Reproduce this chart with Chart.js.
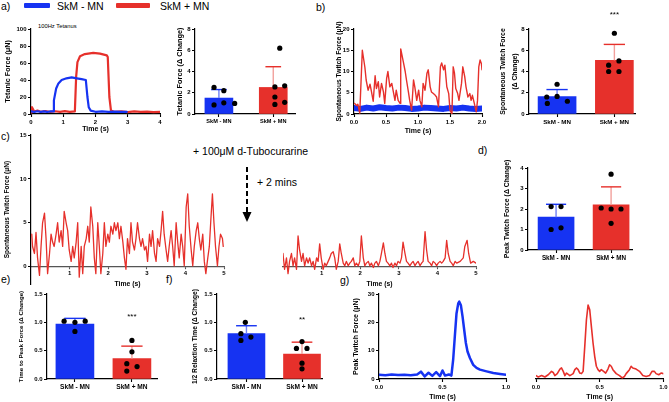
<!DOCTYPE html>
<html>
<head>
<meta charset="utf-8">
<script src="https://cdn.jsdelivr.net/npm/chart.js@4.4.1/dist/chart.umd.min.js"></script>
<style>
  html, body { margin: 0; padding: 0; background: #fff; }
  #fig { position: relative; width: 669px; height: 402px; overflow: hidden; font-family: "Liberation Sans", Arial, sans-serif; color: #000; }
  #fig canvas { position: absolute; left: 0; top: 0; }
  .t { position: absolute; white-space: nowrap; line-height: 1; transform: translateY(-50%); }
  .sw { position: absolute; height: 5px; border-radius: 1px; }
</style>
</head>
<body>
<div id="fig">
  <div class="t" style="left:1px;top:6px;font-size:10.5px">a)</div>
  <div class="sw" style="left:24px;top:3px;width:26px;background:#1633f2"></div>
  <div class="t" style="left:57px;top:6px;font-size:10.5px">SkM - MN</div>
  <div class="sw" style="left:116px;top:3px;width:34px;background:#e6302b"></div>
  <div class="t" style="left:160px;top:6px;font-size:10.5px">SkM + MN</div>
  <div class="t" style="left:38px;top:27px;font-size:5.8px">100Hz Tetanus</div>
  <div class="t" style="left:316px;top:7px;font-size:10.5px">b)</div>
  <div class="t" style="left:1px;top:136px;font-size:10.5px">c)</div>
  <div class="t" style="left:193px;top:151px;font-size:10.5px">+ 100μM d-Tubocurarine</div>
  <div class="t" style="left:257px;top:182px;font-size:10.5px">+ 2 mins</div>
  <svg style="position:absolute;left:0;top:0" width="669" height="402">
    <line x1="247" y1="167" x2="247" y2="213" stroke="#000" stroke-width="2" stroke-dasharray="5,3"/>
    <polygon points="242.5,212 251.5,212 247,222" fill="#000"/>
  </svg>
  <div class="t" style="left:478px;top:150px;font-size:10.5px">d)</div>
  <div class="t" style="left:1px;top:279px;font-size:10.5px">e)</div>
  <div class="t" style="left:166px;top:279px;font-size:10.5px">f)</div>
  <div class="t" style="left:340px;top:280px;font-size:10.5px">g)</div>
</div>
<script>
// ---- data ----
const groups = ['SkM - MN', 'SkM + MN'];

// a) 100Hz tetanus traces
const aBlueT = [0, 0.1, 0.2, 0.3, 0.4, 0.5, 0.6, 0.69, 0.71, 0.78, 0.85, 0.95, 1.1, 1.26, 1.42, 1.57, 1.7, 1.75, 1.79, 1.85, 2.0, 2.2, 2.4, 2.6, 2.8, 2.97];
const aBlueV = [3, 2.5, 3.2, 2.6, 3, 2.4, 3.1, 3, 16, 30, 36, 40, 42, 43, 42, 41, 40, 20, 8, 4, 2.6, 3, 2.4, 2.8, 2.5, 2.6];
const aRedT = [0, 0.03, 0.1, 0.2, 0.3, 0.45, 0.6, 0.75, 0.9, 1.05, 1.2, 1.36, 1.4, 1.44, 1.52, 1.67, 1.93, 2.14, 2.35, 2.38, 2.43, 2.48, 2.6, 2.8, 3.0, 3.2, 3.4, 3.6, 3.8, 4.0];
const aRedV = [2, 8, 3, 4, 2.5, 3.5, 2.4, 3.2, 2.5, 3.4, 2.6, 3, 44, 61, 68, 70.5, 72, 71, 69, 67, 20, 4, 2.4, 3, 2.2, 3, 2.4, 2.8, 2.3, 2.6];

// a) tetanic force bars
const tetMean = [1.5, 2.5];
const tetErr = [2.3, 4.45];
const tetBlue = [2.5, 2.2, 0.85, 1.05, 1.0];
const tetRed = [6.2, 2.55, 2.65, 1.6, 0.9, 1.1];

// b) spontaneous twitch traces
const bBlueT = [0, 0.1, 0.2, 0.3, 0.4, 0.5, 0.6, 0.7, 0.8, 0.9, 1.0, 1.1, 1.2, 1.3, 1.4, 1.5, 1.6, 1.7, 1.8, 1.9, 2.0];
const bBlueV = [1.4, 1.2, 1.5, 1.3, 1.6, 1.4, 1.3, 1.5, 1.4, 1.2, 1.3, 1.5, 1.4, 1.3, 1.2, 1.4, 1.3, 1.5, 1.3, 1.2, 1.3];
const bRedT = [0.01, 0.04, 0.06, 0.09, 0.13, 0.17, 0.19, 0.22, 0.25, 0.27, 0.30, 0.33, 0.35, 0.38, 0.40, 0.43, 0.46, 0.48, 0.51, 0.53,
  0.56, 0.59, 0.61, 0.64, 0.66, 0.69, 0.72, 0.73, 0.77, 0.80, 0.82, 0.85, 0.87, 0.90, 0.93, 0.95, 0.98, 1.01, 1.03, 1.06,
  1.08, 1.11, 1.14, 1.16, 1.19, 1.21, 1.24, 1.27, 1.29, 1.32, 1.35, 1.37, 1.40, 1.42, 1.45, 1.48, 1.50, 1.53, 1.55, 1.57,
  1.59, 1.62, 1.64, 1.68, 1.70, 1.73, 1.75, 1.78, 1.81, 1.83, 1.85, 1.88, 1.91, 1.93, 1.95, 1.97, 1.99, 2.00];
const bRedV = [2.5, 2.0, 2.3, 0.2, 15, 11, 8, 5.6, 7, 5.5, 3, 9, 6, 7.6, 4, 7.2, 5.2, 2.5, 8.4, 10,
  6.4, 7.2, 5.6, 3.2, 5.6, 3.2, 2.5, 15.3, 12.3, 10, 8, 5.2, 3.2, 0.9, 8, 6.4, 3.2, 5.6, 3.2, 1.7,
  7.2, 5.6, 9.6, 10.4, 6.4, 5.2, 4.8, 4.4, 4, 1.7, 11.1, 12, 10.4, 11.5, 6.4, 4.8, 0.9, 0, 11.1, 9.6,
  6, 4.8, 3.2, 7.2, 11.1, 8.8, 6.4, 4, 4.8, 3.2, 4.4, 2.5, 0.5, 3.2, 11.1, 12.7, 11.9, 10.4];

// b) spontaneous twitch bars
const sponMean = [1.65, 5.05];
const sponErr = [2.3, 6.55];
const sponBlue = [2.8, 1.6, 1.65, 1.0, 1.2];
const sponRed = [7.6, 4.6, 5.0, 4.0, 4.0];

// c) before and after d-tubocurarine
const c1T = [0.02, 0.04, 0.09, 0.13, 0.17, 0.22, 0.26, 0.30, 0.35, 0.39, 0.43, 0.48, 0.52, 0.56, 0.60, 0.65, 0.69, 0.73, 0.78, 0.82,
  0.86, 0.91, 0.95, 0.99, 1.04, 1.08, 1.12, 1.17, 1.21, 1.25, 1.30, 1.34, 1.38, 1.43, 1.47, 1.51, 1.55, 1.60, 1.64, 1.68,
  1.73, 1.77, 1.81, 1.86, 1.90, 1.94, 1.99, 2.03, 2.07, 2.12, 2.16, 2.20, 2.25, 2.29, 2.33, 2.38, 2.42, 2.46, 2.50, 2.55,
  2.59, 2.63, 2.68, 2.72, 2.76, 2.81, 2.85, 2.89, 2.94, 2.98, 3.02, 3.07, 3.11, 3.15, 3.20, 3.24, 3.28, 3.33, 3.37, 3.41,
  3.45, 3.50, 3.54, 3.58, 3.63, 3.67, 3.71, 3.76, 3.80, 3.84, 3.89, 3.93, 3.97, 4.02, 4.06, 4.10, 4.15, 4.19, 4.23, 4.28,
  4.32, 4.36, 4.40, 4.45, 4.49, 4.53, 4.58, 4.62, 4.66, 4.70, 4.74, 4.78, 4.83, 4.87, 4.91, 4.96, 4.98];
const c1V = [3.7, 2.3, 1.5, 3.9, 1, -1, 2.3, 5, 6.1, 3.2, -0.8, 1.5, 3.7, 2.8, 2.3, 3.7, 5, 2.8, 4.1, 2.3,
  6.3, 5, 4.1, 1.9, 0.6, 2.3, 1, 2.8, 5, -1.2, 2.3, -0.8, 2.3, 3.2, 4.6, 2.8, 6.8, 4.6, 1, -0.8,
  5, 2.3, -0.8, 1.5, 5, 2.3, 3.7, 2.8, 4.6, 3.7, 5, 4.1, 5, 3.2, 4.6, 2.8, 1, -0.3, 3.2, 1.5,
  5, 2.8, 1.9, 3.2, 5, 3.2, 2.3, 3.2, 1.9, 2.3, 0.6, 3.7, 2.3, 4.1, 1.5, 0.6, 3.2, 2.3, 4.1, 6.3,
  3.7, 1.9, 0.6, 2.3, 4.1, 2.3, 0.1, 5, 2.8, 1, 3.7, 2.3, 0.1, 6.8, 8.3, 4.6, 1.9, 0.1, 2.3, 4.1,
  5, 3.2, 1.9, 3.7, 0.6, -0.8, 1, 2.3, 5.4, 8.3, 5, 2.3, 0.1, 2.3, 3.7, 3.2, 2.3];
const c2T = [0, 0.04, 0.09, 0.13, 0.17, 0.22, 0.26, 0.30, 0.35, 0.39, 0.43, 0.48, 0.52, 0.56, 0.61, 0.65, 0.69, 0.74, 0.78, 0.82,
  0.87, 0.91, 0.95, 0.99, 1.04, 1.08, 1.12, 1.17, 1.21, 1.25, 1.30, 1.34, 1.38, 1.43, 1.47, 1.51, 1.56, 1.60, 1.64, 1.69,
  1.73, 1.77, 1.82, 1.86, 1.90, 1.95, 1.99, 2.03, 2.08, 2.12, 2.16, 2.21, 2.25, 2.29, 2.34, 2.38, 2.42, 2.47, 2.51, 2.55,
  2.60, 2.64, 2.68, 2.72, 2.77, 2.81, 2.85, 2.90, 2.94, 2.98, 3.03, 3.07, 3.11, 3.16, 3.20, 3.24, 3.29, 3.33, 3.37, 3.42,
  3.46, 3.50, 3.55, 3.59, 3.63, 3.68, 3.72, 3.76, 3.81, 3.85, 3.89, 3.94, 3.98, 4.02, 4.07, 4.11, 4.15, 4.20, 4.24, 4.28,
  4.33, 4.37, 4.41, 4.46, 4.50, 4.59, 4.67, 4.71, 4.77, 4.81, 4.86, 4.93, 5.0];
const c2V = [1.5, -0.3, 1, -0.8, 0.6, 1.5, 0.1, 1, -0.3, 3.5, 1.9, 0.6, 1.5, 0.1, 1, 0.4, 1, 0.1, 0.6, -0.3,
  1, 0.6, 2.6, 1, -0.3, 0.4, 0.1, 0.6, 1, 1.5, 1.7, 1, -0.3, 0.6, 2.6, 1.5, 0.4, 0.1, 0.6, 0.1,
  0.4, 0.6, 1, 0.1, 0.4, 0.1, 0.6, 3.5, 1, 0.1, 0.4, 0.6, 0.1, 0.4, -0.1, 0.4, 0.6, 0.1, 0.6, 1.5,
  2.7, 1.5, 0.6, 0.4, 0.1, 0.4, -0.1, 0.4, 0.1, 0.6, 0.4, 1, 2.8, 1.5, 0.6, 0.4, 0.1, 0.4, 0.6, 0.1,
  0.4, 0.6, 0.1, 0.4, 0.6, 4, 1.9, 0.6, 0.4, 0.1, 0.6, 0.4, 0.1, 0.4, 0.6, 0.4, 0.6, 1, 3, 1.5,
  0.6, 0.4, 0.1, 0.6, 0.4, 0.6, 1, 2.3, 3, 1.5, 0.4, 0.6, 0.4];

// d) peak twitch force bars
const peakMean = [1.6, 2.2];
const peakErr = [2.23, 3.08];
const peakBlue = [2.12, 2.12, 1.0, 1.08];
const peakRed = [3.7, 2.05, 2.0, 2.0, 1.3];

// e) time to peak force bars
const ttpMean = [0.97, 0.36];
const ttpErr = [1.07, 0.58];
const ttpBlue = [1.02, 1.0, 1.02, 0.84];
const ttpRed = [0.68, 0.48, 0.27, 0.22, 0.14];

// f) half relaxation time bars
const relMean = [0.8, 0.44];
const relErr = [0.94, 0.65];
const relBlue = [1.0, 0.8, 0.68, 0.74];
const relRed = [0.66, 0.54, 0.54, 0.28, 0.18];

// g) single twitch traces
const gBlueT = [0, 0.05, 0.1, 0.15, 0.2, 0.25, 0.3, 0.33, 0.36, 0.39, 0.42, 0.45, 0.48, 0.5, 0.52, 0.55, 0.57, 0.584, 0.597, 0.61,
  0.624, 0.632, 0.645, 0.658, 0.671, 0.684, 0.697, 0.716, 0.742, 0.768, 0.795, 0.847, 0.9, 0.953, 1.0];
const gBlueV = [1.5, 1.3, 1.6, 1.4, 1.5, 1.3, 1.6, 2.6, 0.9, 2.2, 1.1, 2.4, 1.0, 3.0, 1.2, 1.6, 1.2, 6.8, 15, 23,
  26.7, 27.3, 26, 22, 17.3, 12.7, 9.7, 7.4, 5, 3.9, 3.3, 2.7, 2.1, 1.8, 1.5];
const gRedT = [0, 0.018, 0.044, 0.07, 0.096, 0.122, 0.135, 0.148, 0.167, 0.188, 0.2, 0.214, 0.227, 0.24, 0.266, 0.292, 0.305, 0.318, 0.331, 0.344,
  0.357, 0.37, 0.383, 0.396, 0.409, 0.422, 0.435, 0.448, 0.461, 0.474, 0.487, 0.5, 0.513, 0.531, 0.547, 0.565, 0.578, 0.591, 0.604, 0.63,
  0.656, 0.677, 0.695, 0.708, 0.734, 0.747, 0.76, 0.786, 0.813, 0.839, 0.865, 0.891, 0.911, 0.93, 0.943, 0.964, 0.982, 1.0];
const gRedV = [1.2, 0.7, 1.2, 0.7, 1.5, 2.7, 2.3, 1.2, 1.9, 3.5, 3.9, 2.7, 1.2, 2.1, 1.2, 1.9, 3.3, 3.9, 3.3, 2.1,
  1.9, 2.7, 11.5, 20.9, 26.1, 24.4, 18.5, 12.7, 8, 4.5, 3.3, 2.7, 3.3, 2.7, 2.1, 3.5, 5, 4.5, 3.3, 1.9,
  1.2, 0.4, 0.9, 1.9, 3.3, 4.5, 3.9, 3.5, 2.7, 1.2, 0.9, 1.2, 2.7, 2.7, 1.9, 1.5, 2.1, 1.9];

// horizontal scatter of the dots inside each bar (layout, not data)
const jit = {
  tet: [[-0.09, 0.09, -0.09, 0.09, 0.29], [0.12, 0.03, 0.21, 0.03, 0.03, 0.21]],
  spon: [[0, -0.18, 0, -0.17, 0.18], [0, -0.1, 0.08, -0.1, 0.08]],
  peak: [[-0.09, 0.09, -0.09, 0.09], [0, -0.18, 0, 0.18, 0]],
  ttp: [[-0.19, 0, 0.18, 0], [0, 0, -0.09, 0.09, -0.09]],
  rel: [[-0.02, -0.1, -0.1, 0.08], [0, -0.1, 0.09, 0, 0]]
};

// ---- drawing ----
const FONT = '"Liberation Sans", Arial, sans-serif';
const BLUE = '#1633f2', RED = '#e6302b';
const BLUE_L = '#6f80f6', RED_L = '#f2a09c';
const CW = 669, CH = 402;

function addCanvas() {
  const c = document.createElement('canvas');
  c.width = CW;
  c.height = CH;
  document.getElementById('fig').appendChild(c);
  return c;
}

// box = plot area [left, top, right, bottom] in page pixels
function place(box, yw, xh) {
  return { padding: { left: box[0] - yw, top: box[1], right: CW - box[2], bottom: CH - box[3] - xh } };
}

function axis(o) {
  const col = o.color || '#000';
  return {
    type: 'linear', min: o.min, max: o.max, position: o.pos, offset: false,
    border: { display: true, color: col, width: 1.2 },
    grid: { drawOnChartArea: false, offset: false, tickLength: o.tl == null ? 3 : o.tl, tickWidth: 1.1, color: col },
    ticks: {
      color: '#000', padding: 1.5, autoSkip: false, maxRotation: 0, minRotation: 0,
      font: { family: FONT, size: o.fs || 6, weight: 'bold' },
      callback: (v, i) => o.labels ? o.labels[i] : (o.dec ? v.toFixed(o.dec) : String(v))
    },
    title: {
      display: !!o.title, text: o.title || '', color: '#000', padding: 0,
      font: { family: FONT, size: o.tfs || 7, weight: 'bold', lineHeight: o.tlh || 1.2 }
    },
    afterBuildTicks: s => { s.ticks = o.ticks.map(v => ({ value: v })); },
    afterFit: s => { if (s.isHorizontal()) s.height = o.size; else s.width = o.size; }
  };
}

function traceChart(box, xo, yo, series) {
  const hidden = yo.hidden;
  new Chart(addCanvas(), {
    type: 'line',
    data: {
      datasets: series.map(s => ({
        data: s.t.map((t, i) => ({ x: t, y: s.v[i] })),
        borderColor: s.color, borderWidth: s.w, pointRadius: 0, tension: 0, fill: false,
        borderJoinStyle: 'round', borderCapStyle: 'round'
      }))
    },
    options: {
      responsive: false, animation: false, events: [],
      layout: place(box, hidden ? 0 : yo.size, xo.size),
      plugins: { legend: { display: false }, tooltip: { enabled: false } },
      scales: {
        x: axis(xo),
        y: hidden ? { type: 'linear', display: false, min: yo.min, max: yo.max } : axis(yo)
      }
    }
  });
}

function errPlugin(err, sig) {
  return {
    id: 'errbars',
    afterDatasetDraw(chart, args) {
      if (args.meta.type !== 'bar') return;
      const ctx = chart.ctx, ys = chart.scales.y;
      args.meta.data.forEach((bar, i) => {
        const top = ys.getPixelForValue(err[i]);
        const half = bar.width * 0.28;
        ctx.save();
        ctx.lineWidth = 1.4;
        ctx.strokeStyle = i ? RED_L : BLUE_L;
        ctx.beginPath(); ctx.moveTo(bar.x, bar.y); ctx.lineTo(bar.x, top); ctx.stroke();
        ctx.strokeStyle = i ? RED : BLUE;
        ctx.beginPath(); ctx.moveTo(bar.x - half, top); ctx.lineTo(bar.x + half, top); ctx.stroke();
        ctx.restore();
      });
    },
    afterDraw(chart) {
      if (!sig) return;
      const ctx = chart.ctx;
      const x = chart.scales.x.getPixelForValue(sig.i);
      const y = chart.scales.y.getPixelForValue(sig.v);
      ctx.save();
      ctx.fillStyle = '#000';
      ctx.font = (sig.size || 8) + 'px ' + FONT;
      ctx.textAlign = 'center';
      ctx.textBaseline = 'middle';
      ctx.fillText(sig.text, x, y);
      ctx.restore();
    }
  };
}

function barChart(box, o) {
  const dots = [];
  o.pts.forEach((vals, g) => vals.forEach((v, i) => dots.push({ x: g + o.jit[g][i], y: v })));
  new Chart(addCanvas(), {
    type: 'bar',
    data: {
      datasets: [
        { type: 'scatter', order: 0, data: dots, pointRadius: 2.6, pointBackgroundColor: '#000', pointBorderWidth: 0 },
        { type: 'bar', order: 1, data: o.mean.map((m, g) => ({ x: g, y: m })), backgroundColor: [BLUE, RED], barThickness: o.bw, borderWidth: 0 }
      ]
    },
    options: {
      responsive: false, animation: false, events: [],
      layout: place(box, o.y.size, 12),
      plugins: { legend: { display: false }, tooltip: { enabled: false } },
      scales: {
        x: axis({ min: o.xr[0], max: o.xr[1], ticks: [0, 1], labels: groups, size: 12, fs: o.cfs || 6 }),
        y: axis(o.y)
      }
    },
    plugins: [errPlugin(o.err, o.sig)]
  });
}

// a) tetanus traces
traceChart([31, 29, 160, 114],
  { min: 0, max: 4, ticks: [0, 1, 2, 3, 4], size: 19.5, title: 'Time (s)' },
  { min: 0, max: 100, ticks: [0, 20, 40, 60, 80, 100], size: 27.7, title: 'Tetanic Force (μN)', tfs: 7.2 },
  [{ t: aBlueT, v: aBlueV, color: BLUE, w: 2.2 }, { t: aRedT, v: aRedV, color: RED, w: 2.2 }]);

// a) tetanic force bars
barChart([195, 29, 295, 114], {
  mean: tetMean, err: tetErr, pts: [tetBlue, tetRed], jit: jit.tet, bw: 28, xr: [-0.44, 1.4], cfs: 5.6,
  y: { min: 0, max: 8, ticks: [0, 2, 4, 6, 8], size: 19.5, title: 'Tetanic Force (Δ Change)', tfs: 7.3 }
});

// b) spontaneous traces
traceChart([354, 29, 482, 114],
  { min: 0, max: 2, ticks: [0, 0.5, 1, 1.5, 2], dec: 1, size: 21, title: 'Time (s)' },
  { min: 0, max: 20, ticks: [0, 5, 10, 15, 20], size: 19, title: 'Spontaneous Twitch Force (μN)', tfs: 6.7 },
  [{ t: bRedT, v: bRedV, color: RED, w: 1.4 }, { t: bBlueT, v: bBlueV, color: BLUE, w: 6 }]);

// b) spontaneous twitch bars
barChart([529, 29, 635, 114], {
  mean: sponMean, err: sponErr, pts: [sponBlue, sponRed], jit: jit.spon, bw: 38, xr: [-0.49, 1.36], cfs: 6.2,
  sig: { i: 1, v: 9.3, text: '***', size: 8 },
  y: { min: 0, max: 8, ticks: [0, 2, 4, 6, 8], size: 32, title: ['Spontaneous Twitch Force', '(Δ Change)'], tfs: 6.8, tlh: 1.75 }
});

// c) before d-tubocurarine
traceChart([31, 135, 224, 263],
  { min: 0, max: 5, ticks: [1, 2, 3, 4, 5], pos: { y: 0 }, color: '#555', tl: 2, size: 21.2, title: 'Time (s)', tfs: 6.8 },
  { min: -2, max: 15, ticks: [0, 5, 10, 15], size: 27.5, title: 'Spontaneous Twitch Force (μN)', tfs: 6.5 },
  [{ t: c1T, v: c1V, color: RED, w: 1.3 }]);

// c) after d-tubocurarine
traceChart([283, 135, 476, 263],
  { min: 0, max: 5, ticks: [1, 2, 3, 4, 5], pos: { y: 0 }, color: '#555', tl: 2, size: 21.2, title: 'Time (s)', tfs: 6.8 },
  { min: -2, max: 15, hidden: true },
  [{ t: c2T, v: c2V, color: RED, w: 1.3 }]);

// d) peak twitch bars
barChart([528, 168, 632, 250], {
  mean: peakMean, err: peakErr, pts: [peakBlue, peakRed], jit: jit.peak, bw: 36, xr: [-0.51, 1.38], cfs: 6.3,
  y: { min: 0, max: 4, ticks: [0, 1, 2, 3, 4], size: 25, title: 'Peak Twitch Force (Δ Change)', tfs: 6.9 }
});

// e) time to peak bars
barChart([47, 294, 157, 379], {
  mean: ttpMean, err: ttpErr, pts: [ttpBlue, ttpRed], jit: jit.ttp, bw: 38, xr: [-0.49, 1.44], cfs: 6.6,
  sig: { i: 1, v: 1.09, text: '***', size: 8 },
  y: { min: 0, max: 1.5, ticks: [0, 0.5, 1, 1.5], dec: 1, size: 29, title: 'Time to Peak Force (Δ Change)', tfs: 6.2 }
});

// f) half relaxation bars
barChart([217, 294, 322, 379], {
  mean: relMean, err: relErr, pts: [relBlue, relRed], jit: jit.rel, bw: 37, xr: [-0.53, 1.36], cfs: 6.6,
  sig: { i: 1, v: 1.04, text: '**', size: 8 },
  y: { min: 0, max: 1.5, ticks: [0, 0.5, 1, 1.5], dec: 1, size: 26, title: '1/2 Relaxtion Time (Δ Change)', tfs: 6.6 }
});

// g) single twitch traces
traceChart([379, 294, 506, 379],
  { min: 0, max: 1, ticks: [0, 0.5, 1], dec: 1, size: 22.2, title: 'Time (s)' },
  { min: 0, max: 30, ticks: [0, 10, 20, 30], size: 27, title: 'Peak Twitch Force (μN)', tfs: 7 },
  [{ t: gBlueT, v: gBlueV, color: BLUE, w: 2.5 }]);

traceChart([536, 294, 664, 379],
  { min: 0, max: 1, ticks: [0, 0.5, 1], dec: 1, size: 22.2, title: 'Time (s)' },
  { min: 0, max: 30, hidden: true },
  [{ t: gRedT, v: gRedV, color: RED, w: 1.6 }]);
</script>
</body>
</html>
